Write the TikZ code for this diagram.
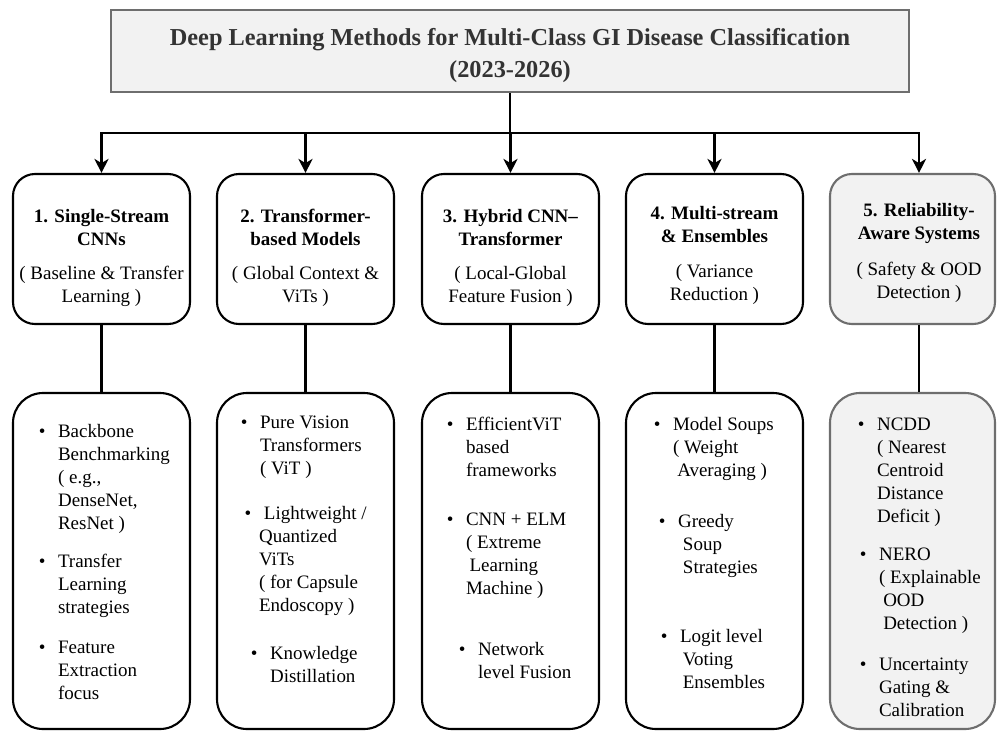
\documentclass[tikz,border=0pt]{standalone}
\usepackage{fontspec}
\setmainfont{Liberation Serif}
\usepackage{tikz}
\usetikzlibrary{arrows.meta}

\definecolor{boxgray}{HTML}{F2F2F2}
\definecolor{edgegray}{HTML}{6E6E6E}
\definecolor{titletext}{HTML}{333333}
\newcommand{\bul}{\llap{\textbullet\hspace{9pt}}}

\begin{document}
\begin{tikzpicture}[x=0.25mm, y=-0.25mm, line width=1.5pt,
    cat/.style={draw, rounded corners=5.5mm, minimum width=44.25mm, minimum height=37.5mm, inner sep=0pt},
    grp/.style={draw, rounded corners=7.5mm, minimum width=44.25mm, minimum height=84mm, inner sep=0pt},
    cattext/.style={anchor=north, align=center, inner sep=0pt, font=\fontsize{13.5}{16.3}\selectfont},
    item/.style={anchor=north west, align=left, inner sep=0pt, font=\fontsize{13.5}{16.3}\selectfont},
    arr/.style={-{Stealth[length=10pt, width=10pt, inset=3pt]}}]
    \useasboundingbox (0,0) rectangle (997,732);

    % title
    \node[draw=edgegray, fill=boxgray, minimum width=199.5mm, minimum height=20.5mm, inner sep=0pt] (title) at (510,51) {};
    \node[anchor=north, align=center, inner sep=0pt, text=titletext, font=\fontsize{17.3}{23}\selectfont\bfseries] (titletxt) at (510,21.4)
        {\strut Deep Learning Methods for Multi-Class GI Disease Classification\\(2023-2026)};

    % categories
    \node[cat] (t1) at (101.5,249) {};
    \node[cat] (t2) at (305.5,249) {};
    \node[cat] (t3) at (510.5,249) {};
    \node[cat] (t4) at (714.5,249) {};
    \node[cat, draw=edgegray, fill=boxgray, minimum width=41.25mm] (t5) at (912.5,249) {};

    \node[cattext] (t1txt) at (101.5,205) {\strut\textbf{1. Single-Stream}\\\textbf{CNNs}\\[8pt]( Baseline \& Transfer\\Learning )};
    \node[cattext] (t2txt) at (305.5,205) {\strut\textbf{2. Transformer-}\\\textbf{based Models}\\[8pt]( Global Context \&\\ViTs )};
    \node[cattext] (t3txt) at (510.5,205) {\strut\textbf{3. Hybrid CNN--}\\\textbf{Transformer}\\[8pt]( Local-Global\\Feature Fusion )};
    \node[cattext] (t4txt) at (714.5,202) {\strut\textbf{4. Multi-stream}\\\textbf{\& Ensembles}\\[9pt]( Variance\\Reduction )};
    \node[cattext] (t5txt) at (919,199) {\strut\textbf{5. Reliability-}\\\textbf{Aware Systems}\\[10pt]( Safety \& OOD\\Detection )};

    % method groups
    \node[grp] (b1) at (101.5,561) {};
    \node[grp] (b2) at (305.5,561) {};
    \node[grp] (b3) at (510.5,561) {};
    \node[grp] (b4) at (714.5,561) {};
    \node[grp, draw=edgegray, fill=boxgray, minimum width=41.25mm] (b5) at (912.5,561) {};

    \node[item] (b1a) at (57,420.4) {\strut\bul Backbone\\Benchmarking\\( e.g.,\\DenseNet,\\ResNet )};
    \node[item] (b1b) at (57,550.4) {\strut\bul Transfer\\Learning\\strategies};
    \node[item] (b1c) at (57,636.4) {\strut\bul Feature\\Extraction\\focus};

    \node[item] (b2a) at (259,411.4) {\strut\bul Pure Vision\\Transformers\\( ViT )};
    \node[item] (b2b) at (258,502.4) {\strut\hspace*{3.5pt}\bul Lightweight /\\Quantized\\ViTs\\( for Capsule\\Endoscopy )};
    \node[item] (b2c) at (269,642.4) {\strut\bul Knowledge\\Distillation};

    \node[item] (b3a) at (465,413.4) {\strut\bul EfficientViT\\based\\frameworks};
    \node[item] (b3b) at (465,508.4) {\strut\bul CNN + ELM\\( Extreme\\\hspace*{2.5pt}Learning\\Machine )};
    \node[item] (b3c) at (477,638.4) {\strut\bul Network\\level Fusion};

    \node[item] (b4a) at (672,413.4) {\strut\bul Model Soups\\( Weight\\\hspace*{3pt}Averaging )};
    \node[item] (b4b) at (677,510.4) {\strut\bul Greedy\\\hspace*{3.5pt}Soup\\\hspace*{3.5pt}Strategies};
    \node[item] (b4c) at (679,625.4) {\strut\bul Logit level\\\hspace*{2pt}Voting\\\hspace*{2pt}Ensembles};

    \node[item] (b5a) at (876,413.4) {\strut\bul NCDD\\( Nearest\\Centroid\\Distance\\Deficit )};
    \node[item] (b5b) at (878,543.4) {\strut\bul NERO\\( Explainable\\\hspace*{3pt}OOD\\\hspace*{3pt}Detection )};
    \node[item] (b5c) at (878,653.4) {\strut\bul Uncertainty\\Gating \&\\Calibration};

    % connectors
    \coordinate (hub) at (510,133);
    \coordinate (c5) at (919,133);
    \draw (title.south) -- (hub);
    \draw[arr] (hub) -| (t1.north);
    \draw[arr] (hub) -| (t5.north -| c5);
    \foreach \n in {2,3,4}
        \draw[arr] (hub -| t\n.north) -- (t\n.north);
    \foreach \n in {1,2,3,4}
        \draw (t\n.south) -- (b\n.north);
    \draw (t5.south -| c5) -- (b5.north -| c5);
\end{tikzpicture}
\end{document}
